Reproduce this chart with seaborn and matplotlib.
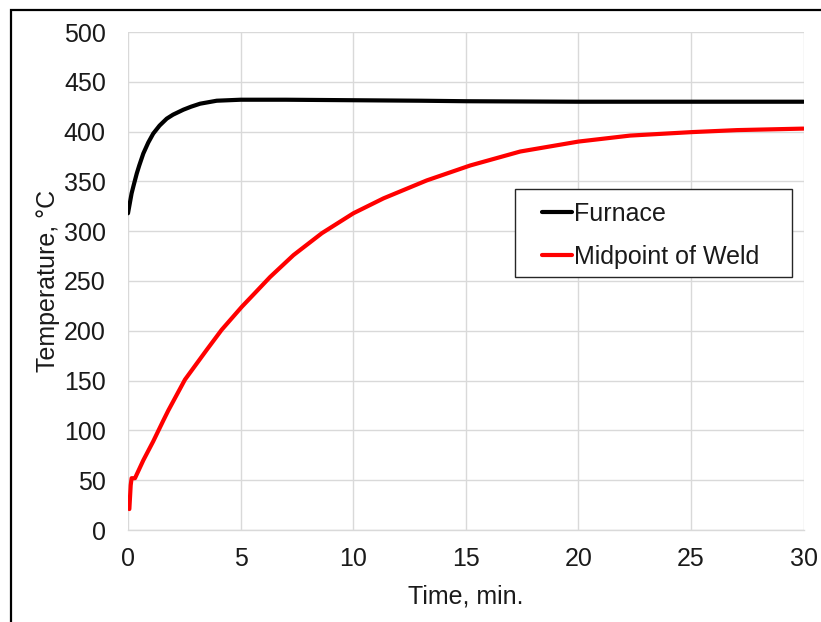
import matplotlib
matplotlib.use('Agg')
import matplotlib.pyplot as plt
from matplotlib.patches import Rectangle
import seaborn as sns

# data
furnace_time = [0, 0.08, 0.16, 0.25, 0.39, 0.5, 0.68, 0.9, 1.12, 1.4, 1.72, 2.0,
                2.46, 2.8, 3.2, 3.94, 5, 7, 10, 13, 15, 20, 25, 30]
furnace_temp = [318, 328, 338, 346, 358, 366, 378, 389, 398, 406, 413, 417,
                422, 425, 428, 431, 432, 432, 431.5, 431, 430.5, 430, 430, 430]

weld_time = [0.06, 0.12, 0.16, 0.31, 0.68, 1.12, 1.57, 1.79, 2.53, 3.5, 4.16, 5.05,
             5.64, 6.31, 7.35, 8.61, 10.01, 11.35, 13.27, 15.2, 17.42, 20.01, 22.3,
             25.05, 27.05, 30]
weld_temp = [21, 45, 52, 52, 70, 89, 110, 120, 151, 181, 201, 224,
             238, 254, 276, 298, 318, 333, 351, 366, 380, 390, 396,
             399.5, 401.5, 403]

x_ticks = [0, 5, 10, 15, 20, 25, 30]
y_ticks = [0, 50, 100, 150, 200, 250, 300, 350, 400, 450, 500]

sns.set_style('whitegrid')
plt.rcParams['font.family'] = ['Liberation Sans', 'DejaVu Sans']

grid_c = '#d9d9d9'
text_c = '#1a1a1a'

fig = plt.figure(figsize=(8.21, 6.22), dpi=100)
ax = fig.add_axes([128 / 821, 1 - 530 / 622, 675.5 / 821, 498 / 622])

sns.lineplot(x=furnace_time, y=furnace_temp, ax=ax, color='black', linewidth=3,
             label='Furnace', sort=False)
sns.lineplot(x=weld_time, y=weld_temp, ax=ax, color='#ff0000', linewidth=3,
             label='Midpoint of Weld', sort=False)

ax.set_xlim(0, 30)
ax.set_ylim(0, 500)
ax.set_xticks(x_ticks)
ax.set_yticks(y_ticks)
ax.grid(True, color=grid_c, linewidth=1)
for side in ['left', 'top', 'right']:
    ax.spines[side].set_visible(False)
ax.spines['bottom'].set_color(grid_c)
ax.spines['bottom'].set_linewidth(1)

ax.tick_params(axis='x', direction='out', length=5, width=1, color=grid_c,
               pad=7, labelsize=18, labelcolor=text_c)
ax.tick_params(axis='y', length=0, pad=16, labelsize=18, labelcolor=text_c)

ax.set_xlabel('Time, min.', fontsize=18, color=text_c, labelpad=10)
ax.set_ylabel('Temperature, °C', fontsize=18, color=text_c, labelpad=3)

# legend without its own frame; the box is drawn separately to match the padding
leg = ax.legend(loc='upper left',
                bbox_to_anchor=((542 - 128) / 675.5, 1 - (202 - 32) / 498),
                fontsize=18, frameon=False, handlelength=1.2, handletextpad=0.1,
                labelspacing=0.75, borderpad=0, borderaxespad=0)
for t in leg.get_texts():
    t.set_color(text_c)
leg.set_zorder(6)
box = Rectangle((515 / 821, 1 - 277 / 622), 277 / 821, 88 / 622,
                transform=fig.transFigure, facecolor='white',
                edgecolor='#262626', linewidth=1, zorder=5, clip_on=False)
ax.add_patch(box)

# outer chart border
fig.patches.append(Rectangle((11 / 821, -0.1), 1.2, 1.1 - 10 / 622,
                             transform=fig.transFigure, fill=False,
                             edgecolor='black', linewidth=1.6))

fig.savefig('out.png', dpi=100)
